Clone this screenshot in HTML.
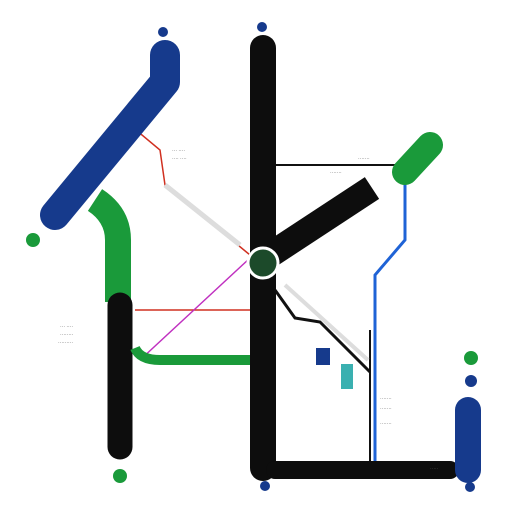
<!DOCTYPE html>
<html><head><meta charset="utf-8"><style>
html,body{margin:0;padding:0;background:#fff;}
svg{display:block;font-family:"Liberation Sans",sans-serif;}
</style></head><body>
<svg width="512" height="512" viewBox="0 0 512 512">
<rect width="512" height="512" fill="#ffffff"/>
<!-- thin lines -->
<line x1="275" y1="165" x2="400" y2="165" stroke="#111" stroke-width="2"/>
<polyline points="405,180 405,240 375,275 375,462" fill="none" stroke="#1f63d6" stroke-width="3"/>
<line x1="370" y1="330" x2="370" y2="462" stroke="#111" stroke-width="2"/>
<polyline points="275,290 295,318 320,322 370,372" fill="none" stroke="#111" stroke-width="3"/>
<line x1="285" y1="285" x2="368" y2="360" stroke="#ddd" stroke-width="4"/>
<line x1="135" y1="310" x2="252" y2="310" stroke="#d03020" stroke-width="1.5"/>
<line x1="140" y1="360" x2="250" y2="258" stroke="#c030c0" stroke-width="1.5"/>
<polyline points="130,125 160,150 165,185 250,255" fill="none" stroke="#d03020" stroke-width="1.5"/>
<line x1="165" y1="185" x2="240" y2="245" stroke="#ddd" stroke-width="5"/>
<!-- thick bands -->
<polyline points="165,55 165,82 55,215" fill="none" stroke="#163a8c" stroke-width="30" stroke-linecap="round" stroke-linejoin="round"/>
<path d="M95,200 Q118,215 118,240 L118,302" fill="none" stroke="#1a9a3a" stroke-width="26" stroke-linecap="butt"/>
<line x1="120" y1="305" x2="120" y2="447" stroke="#0d0d0d" stroke-width="25" stroke-linecap="round"/>
<path d="M135,348 Q140,360 160,360 L250,360" fill="none" stroke="#1a9a3a" stroke-width="10"/>
<line x1="263" y1="48" x2="263" y2="468" stroke="#0d0d0d" stroke-width="26" stroke-linecap="round"/>
<line x1="270" y1="255" x2="372" y2="188" stroke="#0d0d0d" stroke-width="26" stroke-linecap="butt"/>
<line x1="405" y1="172" x2="430" y2="145" stroke="#1a9a3a" stroke-width="26" stroke-linecap="round"/>
<line x1="275" y1="470" x2="450" y2="470" stroke="#0d0d0d" stroke-width="18" stroke-linecap="round"/>
<line x1="468" y1="410" x2="468" y2="470" stroke="#163a8c" stroke-width="26" stroke-linecap="round"/>
<rect x="316" y="348" width="14" height="17" fill="#163a8c"/>
<rect x="341" y="364" width="12" height="25" fill="#3ab0b0"/>
<!-- center station -->
<circle cx="263" cy="263" r="15" fill="#1c4a2a" stroke="#fff" stroke-width="3"/>
<!-- dots -->
<circle cx="262" cy="27" r="5" fill="#163a8c"/>
<circle cx="163" cy="32" r="5" fill="#163a8c"/>
<circle cx="33" cy="240" r="7" fill="#1a9a3a"/>
<circle cx="120" cy="476" r="7" fill="#1a9a3a"/>
<circle cx="471" cy="358" r="7" fill="#1a9a3a"/>
<circle cx="471" cy="381" r="6" fill="#163a8c"/>
<circle cx="470" cy="487" r="5" fill="#163a8c"/>
<circle cx="265" cy="486" r="5" fill="#163a8c"/>
<!-- small labels -->
<g font-size="5" fill="#555">
<text x="172" y="152">··· ····</text>
<text x="172" y="160">···· ····</text>
<text x="358" y="160">·······</text>
<text x="330" y="174">·······</text>
<text x="60" y="328">··· ····</text>
<text x="60" y="336">········</text>
<text x="58" y="344">·········</text>
<text x="380" y="400">·······</text>
<text x="380" y="410">·······</text>
<text x="380" y="425">·······</text>
<text x="430" y="470">·····</text>
</g>
</svg>
</body></html>
